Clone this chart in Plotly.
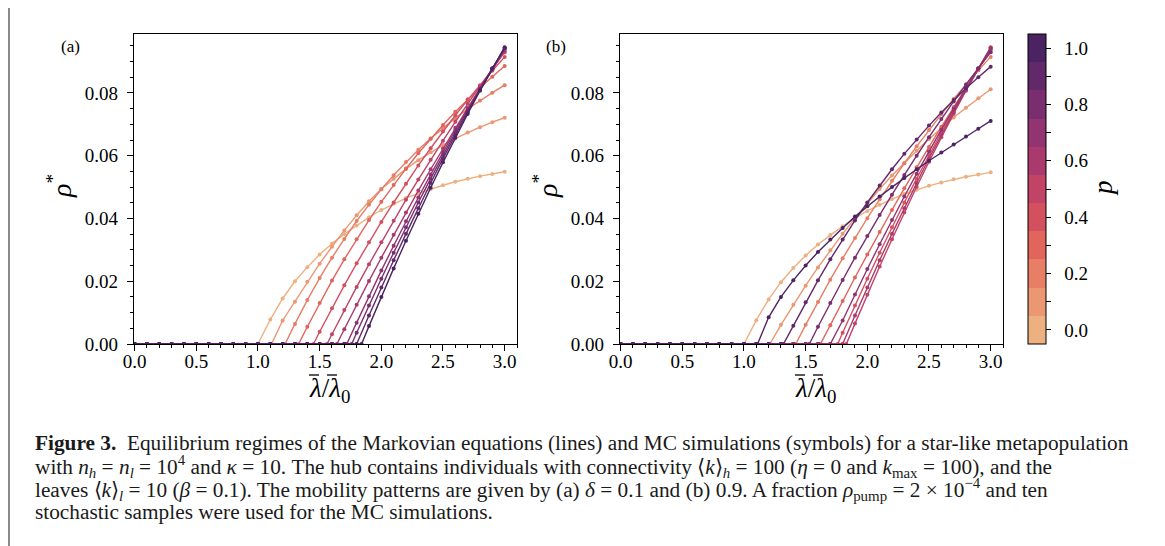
import plotly.graph_objects as go

# lambda / lambda_0 sample grid
lam = [0.0, 0.1, 0.2, 0.3, 0.4, 0.5, 0.6, 0.7, 0.8, 0.9, 1.0, 1.1, 1.2, 1.3, 1.4, 1.5,
       1.6, 1.7, 1.8, 1.9, 2.0, 2.1, 2.2, 2.3, 2.4, 2.5, 2.6, 2.7, 2.8, 2.9, 3.0]

p_vals = [0.0, 0.1, 0.2, 0.3, 0.4, 0.5, 0.6, 0.7, 0.8, 0.9, 1.0]
p_colors = ["#edb081", "#ea9772", "#e77e65", "#e1655d", "#d5505f", "#c14366",
            "#aa3a6d", "#923471", "#7a2e6f", "#62296a", "#4b2362"]

# panel (a): delta = 0.1 -- threshold per p, then rho* on the grid points above it
thr_a = [1.00, 1.11, 1.22, 1.33, 1.45, 1.56, 1.64, 1.72, 1.76, 1.80, 1.84]
rho_a = [
    [.0078, .0145, .0200, .0245, .0285, .0320, .0350, .0378, .0404, .0427, .0447, .0465, .0480, .0494, .0506, .0517, .0527, .0535, .0542, .0549],
    [.0075, .0135, .0198, .0256, .0310, .0362, .0410, .0455, .0494, .0527, .0558, .0586, .0611, .0634, .0655, .0674, .0691, .0707, .0721],
    [.0064, .0140, .0210, .0275, .0335, .0392, .0444, .0493, .0538, .0580, .0619, .0655, .0689, .0720, .0749, .0776, .0801, .0825],
    [.0055, .0131, .0202, .0270, .0334, .0395, .0453, .0507, .0559, .0608, .0654, .0698, .0740, .0780, .0817, .0852, .0886],
    [.0039, .0114, .0187, .0257, .0324, .0389, .0451, .0511, .0569, .0624, .0677, .0729, .0778, .0825, .0871, .0915],
    [.0031, .0108, .0182, .0254, .0324, .0393, .0460, .0524, .0587, .0648, .0708, .0766, .0822, .0877, .0930],
    [.0047, .0125, .0201, .0275, .0348, .0419, .0489, .0557, .0623, .0689, .0752, .0814, .0875, .0935],
    [.0068, .0152, .0234, .0313, .0391, .0467, .0540, .0612, .0682, .0749, .0815, .0878, .0940],
    [.0036, .0123, .0208, .0291, .0372, .0451, .0527, .0602, .0674, .0744, .0812, .0878, .0942],
    [.0091, .0180, .0267, .0351, .0433, .0513, .0591, .0666, .0739, .0810, .0878, .0944],
    [.0057, .0150, .0241, .0329, .0415, .0498, .0579, .0657, .0733, .0807, .0878, .0946],
]

# panel (b): delta = 0.9
thr_b = [1.00, 1.21, 1.42, 1.62, 1.76, 1.83, 1.80, 1.70, 1.53, 1.32, 1.11]
rho_b = [
    [.0076, .0142, .0197, .0242, .0282, .0317, .0347, .0375, .0401, .0424, .0444, .0462, .0478, .0492, .0504, .0515, .0525, .0533, .0540, .0547],
    [.0061, .0125, .0186, .0244, .0299, .0351, .0401, .0449, .0494, .0537, .0577, .0616, .0653, .0688, .0722, .0753, .0783, .0812],
    [.0061, .0134, .0205, .0273, .0338, .0401, .0461, .0520, .0576, .0630, .0682, .0732, .0781, .0827, .0872, .0915],
    [.0060, .0137, .0212, .0285, .0357, .0427, .0496, .0563, .0628, .0692, .0755, .0816, .0876, .0935],
    [.0036, .0123, .0208, .0291, .0372, .0451, .0527, .0602, .0674, .0744, .0812, .0878, .0942],
    [.0065, .0157, .0247, .0334, .0419, .0501, .0581, .0659, .0734, .0807, .0878, .0946],
    [.0091, .0180, .0267, .0351, .0433, .0513, .0591, .0666, .0739, .0810, .0878, .0944],
    [.0075, .0158, .0239, .0318, .0395, .0470, .0543, .0614, .0683, .0750, .0815, .0878, .0940],
    [.0055, .0131, .0204, .0275, .0344, .0411, .0476, .0539, .0600, .0659, .0717, .0773, .0827, .0879, .0930],
    [.0058, .0133, .0203, .0270, .0333, .0394, .0451, .0505, .0557, .0606, .0652, .0696, .0738, .0778, .0815, .0850, .0884],
    [.0085, .0150, .0203, .0250, .0293, .0333, .0370, .0406, .0439, .0470, .0500, .0529, .0557, .0584, .0610, .0636, .0661, .0686, .0711],
]

W, H = 1165, 546
OFF = 8  # the page body adds an 8px margin around the figure
SERIF = "Liberation Serif"
NB = "\u00a0\u00a0"


def px(x):
    return (x - OFF) / W


def py(y):
    return 1 - (y - OFF) / H


def curve(thr, vals):
    n = len(vals)
    xs = [l for l in lam[:-n] if l < thr] + [thr] + lam[-n:]
    ys = [0.0] * (len(xs) - n) + vals
    return xs, ys


fig = go.Figure()

for panel, (thrs, rhos) in enumerate([(thr_a, rho_a), (thr_b, rho_b)]):
    xa = "x" if panel == 0 else "x2"
    ya = "y" if panel == 0 else "y2"
    for p, c, thr, vals in zip(p_vals, p_colors, thrs, rhos):
        xs, ys = curve(thr, vals)
        fig.add_trace(go.Scatter(
            x=xs, y=ys, xaxis=xa, yaxis=ya, mode="lines+markers",
            line=dict(color=c, width=1.4),
            marker=dict(color=c, size=4),
            showlegend=False, hoverinfo="skip"
        ))

# discrete colour bar for p
nb = len(p_colors)
cscale = []
for i, c in enumerate(p_colors):
    cscale.append([i / nb, c])
    cscale.append([(i + 1) / nb, c])

fig.add_trace(go.Scatter(
    x=[None] * nb, y=[None] * nb, xaxis="x2", yaxis="y2", mode="markers",
    marker=dict(color=p_vals, colorscale=cscale, cmin=-0.05, cmax=1.05, showscale=True,
                colorbar=dict(
                    x=px(1028), xanchor="left", xpad=0, ypad=0,
                    y=py(344), yanchor="bottom", len=310 / H, lenmode="fraction",
                    thickness=18, thicknessmode="pixels",
                    outlinewidth=1, outlinecolor="black",
                    tickvals=p_vals,
                    ticktext=[NB + "0.0", "", NB + "0.2", "", NB + "0.4", "", NB + "0.6", "",
                              NB + "0.8", "", NB + "1.0"],
                    ticks="outside", ticklen=5, tickcolor="black",
                    tickfont=dict(family=SERIF, size=19, color="black"),
                )),
    showlegend=False, hoverinfo="skip"
))

ydom = [py(344), py(34)]
xcommon = dict(range=[-0.005, 3.1], dtick=0.5, tickformat=".1f", automargin=False,
               showline=True, linecolor="black", linewidth=1.2, mirror=True,
               ticks="outside", ticklen=6, tickcolor="black", tickwidth=1.2,
               ticklabelstandoff=-6,
               minor=dict(dtick=0.1, ticks="outside", ticklen=3, tickcolor="black"),
               showgrid=False, zeroline=False,
               tickfont=dict(family=SERIF, size=19, color="black"))
ycommon = dict(range=[0, 0.0988], dtick=0.02, tickformat=".2f", automargin=False,
               showline=True, linecolor="black", linewidth=1.2, mirror=True,
               ticks="outside", ticklen=6, tickcolor="black", tickwidth=1.2,
               ticklabelstandoff=5,
               minor=dict(dtick=0.005, ticks="outside", ticklen=3, tickcolor="black"),
               showgrid=False, zeroline=False,
               tickfont=dict(family=SERIF, size=19, color="black"))

fig.update_layout(
    width=W, height=H, autosize=False,
    margin=dict(l=0, r=0, t=0, b=0, pad=0, autoexpand=False),
    paper_bgcolor="white", plot_bgcolor="white",
    xaxis=dict(domain=[px(134), px(517)], anchor="y", **xcommon),
    yaxis=dict(domain=ydom, anchor="x", **ycommon),
    xaxis2=dict(domain=[px(620), px(1003)], anchor="y2", **xcommon),
    yaxis2=dict(domain=ydom, anchor="x2", **ycommon),
)

ann = []
shapes = [
    dict(type="line", xref="paper", yref="paper", x0=px(9), x1=px(9), y0=0, y1=1,
         line=dict(color="#8a8a8a", width=2)),
    dict(type="line", xref="paper", yref="paper", x0=px(1160), x1=px(1160), y0=0, y1=1,
         line=dict(color="#8a8a8a", width=2)),
]
for dx in (0, 486):
    ann.append(dict(text="(a)" if dx == 0 else "(b)", x=px(70 + dx), y=py(47),
                    xref="paper", yref="paper", xanchor="center", yanchor="middle",
                    showarrow=False, font=dict(family=SERIF, size=17, color="black")))
    ann.append(dict(text="<i>ρ</i><sup>*</sup>", x=px(60 + dx), y=py(186),
                    xref="paper", yref="paper", xanchor="center", yanchor="middle",
                    showarrow=False, textangle=-90, font=dict(family=SERIF, size=28, color="black")))
    ann.append(dict(text="<i>λ</i>/<i>λ</i><sub>0</sub>", x=px(329 + dx), y=py(390),
                    xref="paper", yref="paper", xanchor="center", yanchor="middle",
                    showarrow=False, font=dict(family=SERIF, size=27, color="black")))
    # bars over the two lambdas
    for lx in (314, 332):
        shapes.append(dict(type="line", xref="paper", yref="paper",
                           x0=px(lx - 5 + dx), x1=px(lx + 5 + dx), y0=py(375), y1=py(375),
                           line=dict(color="black", width=1.3)))

# colour bar label
ann.append(dict(text="<i>p</i>", x=px(1103), y=py(188), xref="paper", yref="paper",
                xanchor="center", yanchor="middle", showarrow=False, textangle=-90,
                font=dict(family=SERIF, size=27, color="black")))

caption = [
    "<b>Figure 3.</b>  Equilibrium regimes of the Markovian equations (lines) and MC simulations (symbols) for a star-like metapopulation",
    "with <i>n<sub>h</sub></i> = <i>n<sub>l</sub></i> = 10<sup>4</sup> and <i>κ</i> = 10. The hub contains individuals with connectivity ⟨<i>k</i>⟩<sub><i>h</i></sub> = 100 (<i>η</i> = 0 and <i>k</i><sub>max</sub> = 100), and the",
    "leaves ⟨<i>k</i>⟩<sub><i>l</i></sub> = 10 (<i>β</i> = 0.1). The mobility patterns are given by (a) <i>δ</i> = 0.1 and (b) 0.9. A fraction <i>ρ</i><sub>pump</sub> = 2 × 10<sup>−4</sup> and ten",
    "stochastic samples were used for the MC simulations.",
]
for txt, ypix in zip(caption, [443, 466, 489, 512]):
    ann.append(dict(text=txt, x=px(33), y=py(ypix), xref="paper", yref="paper",
                    xanchor="left", yanchor="middle", showarrow=False, align="left",
                    font=dict(family=SERIF, size=21.3, color="#1a1a1a")))

fig.update_layout(annotations=ann, shapes=shapes)

fig.write_html("out.html")
